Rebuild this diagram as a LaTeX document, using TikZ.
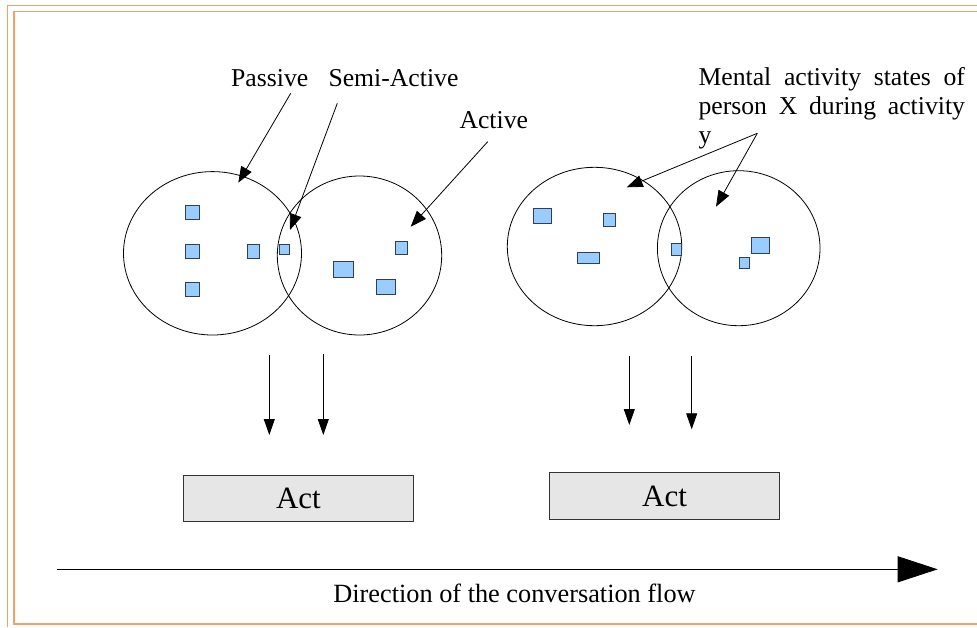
\documentclass[tikz,border=0pt]{standalone}
\usepackage{fontspec}
\setmainfont{Liberation Serif}
\usetikzlibrary{arrows.meta,shapes.geometric}
\definecolor{frameorange}{HTML}{F5A06A}
\definecolor{statefill}{HTML}{99CCFF}
\definecolor{stateedge}{HTML}{2F3F55}
\definecolor{actfill}{HTML}{E6E6E6}
\tikzset{
  frameline/.style={draw=frameorange,line width=1.3pt},
  region/.style={draw,ellipse,line width=0.8pt,inner sep=0pt},
  state/.style={draw=stateedge,fill=statefill,line width=0.9pt,inner sep=0pt},
  actbox/.style={draw=black!80,fill=actfill,line width=0.9pt,inner sep=0pt,font=\fontsize{31}{36}\selectfont},
  lbl/.style={inner sep=0pt,anchor=base west,font=\fontsize{25.7}{29}\selectfont},
  pointer/.style={-{Triangle[length=16pt,width=12pt]},line width=0.8pt},
  downarrow/.style={-{Triangle[length=16pt,width=11pt]},line width=0.8pt},
  flowarrow/.style={-{Triangle[length=40pt,width=26pt]},line width=1pt}
}
\begin{document}
\begin{tikzpicture}[x=1pt,y=-1pt]
\useasboundingbox (0,0) rectangle (977,627);
% page frame
\draw[frameline] (977,5.3) -- (7.5,5.3) -- (7.5,627);
\draw[frameline] (977,11.3) -- (14,11.3) -- (14,624) -- (977,624);

% regions
\node[region,minimum width=178pt,minimum height=163.4pt] (c1) at (212.5,253.3) {};
\node[region,minimum width=164.4pt,minimum height=159pt] (c2) at (359.5,255.5) {};
\node[region,minimum width=174.4pt,minimum height=158.4pt] (c3) at (594.5,246.5) {};
\node[region,minimum width=162.6pt,minimum height=155pt] (c4) at (738.7,248.2) {};

% states
\node[state,minimum width=13.7pt,minimum height=14pt] (s1) at (192.5,212.7) {};
\node[state,minimum width=13.7pt,minimum height=14pt] (s2) at (192.5,251.3) {};
\node[state,minimum width=13.7pt,minimum height=14pt] (s3) at (192.5,289.7) {};
\node[state,minimum width=12pt,minimum height=14pt] (s4) at (253.3,251.3) {};
\node[state,minimum width=10.7pt,minimum height=9.7pt] (s5) at (284.3,249.2) {};
\node[state,minimum width=11.7pt,minimum height=12.3pt] (s6) at (401.5,247.8) {};
\node[state,minimum width=20pt,minimum height=16pt] (s7) at (343.3,269.7) {};
\node[state,minimum width=18.7pt,minimum height=14.7pt] (s8) at (386,286.7) {};
\node[state,minimum width=18.3pt,minimum height=15pt] (s9) at (542.5,215.8) {};
\node[state,minimum width=12pt,minimum height=12.3pt] (s10) at (609.3,219.8) {};
\node[state,minimum width=22pt,minimum height=11.7pt] (s11) at (588.3,257.8) {};
\node[state,minimum width=10.3pt,minimum height=12pt] (s12) at (676.5,249.3) {};
\node[state,minimum width=18.3pt,minimum height=16.3pt] (s13) at (760.2,245.2) {};
\node[state,minimum width=10.3pt,minimum height=10.7pt] (s14) at (744.5,262.7) {};

% labels
\node[lbl] (passive) at (231,86.7) {Passive};
\node[lbl] (semi) at (328.3,86.7) {Semi-Active};
\node[lbl] (active) at (459.3,128) {Active};
\node[lbl] (mental1) at (698.3,85) {\makebox[266.5pt][s]{Mental activity states of}};
\node[lbl] (mental2) at (698.3,114) {\makebox[266.5pt][s]{person X during activity}};
\node[lbl] (mental3) at (698.3,143) {y};

% pointer coordinates
\coordinate (pP) at (290.7,93.3);
\coordinate (tP) at (238.3,182.7);
\coordinate (pS) at (337.3,103.3);
\coordinate (tS) at (290,230);
\coordinate (pA) at (487.7,141.7);
\coordinate (tA) at (410.7,226.7);
\coordinate (pM) at (757.3,133.3);
\coordinate (tM1) at (626.7,187.3);
\coordinate (tM2) at (716,206.7);

\draw[pointer] (pP) -- (tP);
\draw[pointer] (pS) -- (tS);
\draw[pointer] (pA) -- (tA);
\draw[pointer] (pM) -- (tM1);
\draw[pointer] (pM) -- (tM2);

% act boxes
\node[actbox,minimum width=229.2pt,minimum height=46pt] (act1) at (298.4,498) {Act};
\node[actbox,minimum width=230pt,minimum height=46.6pt] (act2) at (664.5,496) {Act};

% down arrows
\coordinate (d1s) at (269.3,355);
\coordinate (d1e) at (269.3,435);
\coordinate (d2s) at (323.3,354);
\coordinate (d2e) at (323.3,435);
\coordinate (d3s) at (629.3,356);
\coordinate (d3e) at (629.3,425);
\coordinate (d4s) at (691.7,356);
\coordinate (d4e) at (691.7,429.3);
\draw[downarrow] (d1s) -- (d1e);
\draw[downarrow] (d2s) -- (d2e);
\draw[downarrow] (d3s) -- (d3e);
\draw[downarrow] (d4s) -- (d4e);

% flow
\coordinate (fs) at (57.3,569.3);
\coordinate (fe) at (937.7,569.3);
\draw[flowarrow] (fs) -- (fe);
\node[inner sep=0pt,anchor=base,font=\fontsize{26.3}{30}\selectfont] (flowlbl) at (514.5,602) {Direction of the conversation flow};
\end{tikzpicture}
\end{document}
